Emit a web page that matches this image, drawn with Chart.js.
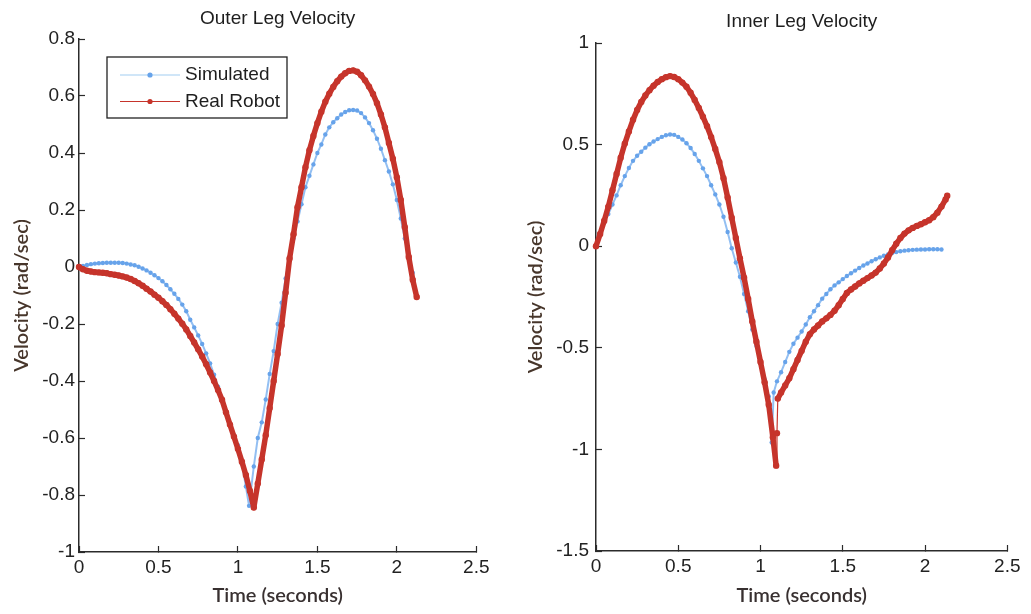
<!DOCTYPE html>
<html>
<head>
<meta charset="utf-8">
<script src="https://cdn.jsdelivr.net/npm/chart.js@4.4.1/dist/chart.umd.min.js"></script>
<style>
  html, body { margin: 0; padding: 0; background: #fff; }
  #wrap { position: relative; width: 1031px; height: 614px; overflow: hidden; }
  canvas { position: absolute; top: 0; }
  #outerChart { left: 0; }
  #innerChart { left: 515px; }
</style>
</head>
<body>
<div id="wrap">
  <canvas id="outerChart" width="500" height="614"></canvas>
  <canvas id="innerChart" width="516" height="614"></canvas>
</div>
<script>
  // tick labels
  const xTicks = [0, 0.5, 1, 1.5, 2, 2.5];
  const outerYTicks = [-1, -0.8, -0.6, -0.4, -0.2, 0, 0.2, 0.4, 0.6, 0.8];
  const innerYTicks = [-1.5, -1, -0.5, 0, 0.5, 1];

  // Outer leg - simulated
  const outerSimT = [0, 0.025, 0.05, 0.075, 0.1, 0.125, 0.15, 0.175, 0.2, 0.225,
    0.25, 0.275, 0.3, 0.325, 0.35, 0.375, 0.4, 0.425, 0.45, 0.475,
    0.5, 0.525, 0.55, 0.575, 0.6, 0.625, 0.65, 0.675, 0.7, 0.725,
    0.75, 0.775, 0.8, 0.825, 0.85, 0.875, 0.9, 0.925, 0.95, 0.975,
    1, 1.025, 1.05, 1.07,
    1.1, 1.125, 1.15, 1.175, 1.2, 1.225, 1.25, 1.275, 1.3, 1.325,
    1.35, 1.375, 1.4, 1.425, 1.45, 1.475, 1.5, 1.525, 1.55, 1.575,
    1.6, 1.625, 1.65, 1.675, 1.7, 1.725, 1.75, 1.775, 1.8, 1.825,
    1.85, 1.875, 1.9, 1.925, 1.95, 1.975, 2, 2.025, 2.05, 2.075, 2.1];
  const outerSimV = [0, 0.004, 0.007, 0.01, 0.012, 0.013, 0.014, 0.015, 0.015, 0.015,
    0.015, 0.014, 0.012, 0.009, 0.006, 0.001, -0.005, -0.012, -0.02, -0.029,
    -0.039, -0.05, -0.063, -0.078, -0.094, -0.112, -0.132, -0.155, -0.185, -0.212,
    -0.24, -0.27, -0.303, -0.338, -0.378, -0.42, -0.465, -0.51, -0.555, -0.59,
    -0.625, -0.69, -0.77, -0.838,
    -0.7, -0.6, -0.545, -0.465, -0.375, -0.295, -0.2, -0.125, -0.04, 0.035,
    0.1, 0.16, 0.22, 0.28, 0.32, 0.36, 0.4, 0.43, 0.465, 0.49,
    0.508, 0.522, 0.535, 0.544, 0.55, 0.551, 0.549, 0.54, 0.525, 0.505,
    0.48, 0.45, 0.415, 0.375, 0.335, 0.29, 0.235, 0.17, 0.1, 0.035, -0.02];

  // Outer leg - real robot
  const outerRealT = [0, 0.025, 0.05, 0.075, 0.1, 0.125, 0.15, 0.175, 0.2, 0.225,
    0.25, 0.275, 0.3, 0.325, 0.35, 0.375, 0.4, 0.425, 0.45, 0.475,
    0.5, 0.525, 0.55, 0.575, 0.6, 0.625, 0.65, 0.675, 0.7, 0.725,
    0.75, 0.775, 0.8, 0.825, 0.85, 0.875, 0.9, 0.925, 0.95, 0.975,
    1, 1.025, 1.05, 1.075, 1.1, 1.125, 1.15, 1.175, 1.2, 1.225,
    1.25, 1.275, 1.3, 1.325, 1.35, 1.375, 1.4, 1.425, 1.45, 1.475,
    1.5, 1.525, 1.55, 1.575, 1.6, 1.625, 1.65, 1.675, 1.7, 1.725,
    1.75, 1.775, 1.8, 1.825, 1.85, 1.875, 1.9, 1.925, 1.95, 1.975,
    2, 2.025, 2.05, 2.075, 2.1, 2.125];
  const outerRealV = [0, -0.008, -0.013, -0.016, -0.018, -0.019, -0.02, -0.022, -0.025, -0.027,
    -0.03, -0.033, -0.037, -0.042, -0.049, -0.057, -0.066, -0.076, -0.086, -0.097,
    -0.108, -0.12, -0.133, -0.148, -0.164, -0.181, -0.199, -0.219, -0.242, -0.265,
    -0.289, -0.314, -0.341, -0.37, -0.4, -0.432, -0.466, -0.51, -0.553, -0.595,
    -0.638, -0.683, -0.73, -0.785, -0.844, -0.76, -0.675, -0.59, -0.495, -0.4,
    -0.305, -0.205, -0.09, 0.03, 0.115, 0.21, 0.28, 0.35, 0.41, 0.46,
    0.505, 0.545, 0.58, 0.608, 0.632, 0.652, 0.668, 0.68, 0.688, 0.69,
    0.685, 0.673, 0.655, 0.633, 0.607, 0.575, 0.535, 0.49, 0.435, 0.38,
    0.315, 0.235, 0.14, 0.035, -0.045, -0.105];

  // Inner leg - simulated
  const innerSimT = [0, 0.025, 0.05, 0.075, 0.1, 0.125, 0.15, 0.175, 0.2, 0.225,
    0.25, 0.275, 0.3, 0.325, 0.35, 0.375, 0.4, 0.425, 0.45, 0.475,
    0.5, 0.525, 0.55, 0.575, 0.6, 0.625, 0.65, 0.675, 0.7, 0.725,
    0.75, 0.775, 0.8, 0.825, 0.85, 0.875, 0.9, 0.925, 0.95, 0.975,
    1, 1.025, 1.05, 1.06, 1.068, 1.08,
    1.1, 1.125, 1.15, 1.175, 1.2, 1.225, 1.25, 1.275, 1.3, 1.325,
    1.35, 1.375, 1.4, 1.425, 1.45, 1.475, 1.5, 1.525, 1.55, 1.575,
    1.6, 1.625, 1.65, 1.675, 1.7, 1.725, 1.75, 1.775, 1.8, 1.825,
    1.85, 1.875, 1.9, 1.925, 1.95, 1.975, 2, 2.025, 2.05, 2.075, 2.1];
  const innerSimV = [0, 0.06, 0.115, 0.158, 0.205, 0.25, 0.3, 0.345, 0.385, 0.42,
    0.445, 0.465, 0.485, 0.502, 0.515, 0.527, 0.538, 0.546, 0.55, 0.548,
    0.538, 0.525, 0.507, 0.483, 0.454, 0.42, 0.383, 0.345, 0.3, 0.255,
    0.205, 0.145, 0.07, -0.01, -0.08, -0.15, -0.235, -0.32, -0.41, -0.49,
    -0.575, -0.655, -0.74, -0.85, -0.966, -0.72,
    -0.665, -0.62, -0.57, -0.52, -0.48, -0.45, -0.42, -0.385, -0.35, -0.32,
    -0.29, -0.258, -0.235, -0.212, -0.193, -0.178, -0.162, -0.147, -0.133, -0.12,
    -0.107, -0.095, -0.085, -0.074, -0.064, -0.055, -0.047, -0.04, -0.034, -0.029,
    -0.025, -0.022, -0.02, -0.018, -0.017, -0.016, -0.016, -0.015, -0.015, -0.015, -0.016];

  // Inner leg - real robot
  const innerRealT = [0, 0.025, 0.05, 0.075, 0.1, 0.125, 0.15, 0.175, 0.2, 0.225,
    0.25, 0.275, 0.3, 0.325, 0.35, 0.375, 0.4, 0.425, 0.45, 0.475,
    0.5, 0.525, 0.55, 0.575, 0.6, 0.625, 0.65, 0.675, 0.7, 0.725,
    0.75, 0.775, 0.8, 0.825, 0.85, 0.875, 0.9, 0.925, 0.95, 0.975,
    1, 1.025, 1.05, 1.075, 1.095, 1.1, 1.105,
    1.125, 1.15, 1.175, 1.2, 1.225, 1.25, 1.275, 1.3, 1.325, 1.35,
    1.375, 1.4, 1.425, 1.45, 1.475, 1.5, 1.525, 1.55, 1.575, 1.6,
    1.625, 1.65, 1.675, 1.7, 1.725, 1.75, 1.775, 1.8, 1.825, 1.85,
    1.875, 1.9, 1.925, 1.95, 1.975, 2, 2.025, 2.05, 2.075, 2.1,
    2.125, 2.135];
  const innerRealV = [0, 0.06, 0.125, 0.195, 0.275, 0.355, 0.435, 0.505, 0.565, 0.622,
    0.67, 0.71, 0.742, 0.768, 0.79, 0.808, 0.822, 0.832, 0.837, 0.833,
    0.822, 0.805, 0.785, 0.755, 0.72, 0.68, 0.637, 0.59, 0.537, 0.478,
    0.414, 0.335, 0.24, 0.14, 0.04, -0.06, -0.155, -0.26, -0.37, -0.47,
    -0.57, -0.67, -0.78, -0.94, -1.08, -0.92, -0.75,
    -0.72, -0.685, -0.65, -0.605, -0.56, -0.515, -0.47, -0.433, -0.41, -0.39,
    -0.37, -0.355, -0.338, -0.318, -0.29, -0.26, -0.23, -0.213, -0.198, -0.183,
    -0.17, -0.157, -0.144, -0.13, -0.11, -0.085, -0.055, -0.02, 0.012, 0.04,
    0.062, 0.078, 0.09, 0.1, 0.108, 0.118, 0.128, 0.143, 0.165, 0.195,
    0.23, 0.248];

  const SIM_LINE = "rgba(128,180,240,0.85)";
  const SIM_POINT = "#67a3ea";
  const REAL_COLOR = "#c6342b";
  const AXIS_COLOR = "#2b2b2b";
  const TICK_FONT = { family: "'Liberation Sans', Arial, sans-serif", size: 19 };
  const AXIS_TITLE_FONT = { family: "Lato, 'Open Sans', sans-serif", size: 20, weight: '600' };

  const toPoints = (t, v) => t.map((x, i) => ({ x: x, y: v[i] }));

  // the jump back up after the minimum is just a thin connecting line
  const thinJump = (ctx) => (ctx.p1.parsed.x - ctx.p0.parsed.x < 0.008 ? 1.2 : undefined);

  const legendBox = {
    id: 'legendBox',
    afterDraw(chart) {
      const { ctx, chartArea } = chart;
      const x = chartArea.left + 28;
      const y = chartArea.top + 18;
      ctx.save();
      ctx.fillStyle = "#fff";
      ctx.fillRect(x, y, 180, 61);
      ctx.strokeStyle = "#222";
      ctx.lineWidth = 1.3;
      ctx.strokeRect(x, y, 180, 61);
      chart.data.datasets.forEach((ds, i) => {
        const ly = y + 18 + i * 26.5;
        ctx.strokeStyle = ds.legendLine;
        ctx.lineWidth = 1.2;
        ctx.beginPath();
        ctx.moveTo(x + 13, ly);
        ctx.lineTo(x + 73, ly);
        ctx.stroke();
        ctx.fillStyle = ds.pointBackgroundColor;
        ctx.beginPath();
        ctx.arc(x + 43, ly, 2.6, 0, Math.PI * 2);
        ctx.fill();
        ctx.fillStyle = "#1e1e1e";
        ctx.font = "19px 'Liberation Sans', Arial, sans-serif";
        ctx.textBaseline = "middle";
        ctx.textAlign = "left";
        ctx.fillText(ds.label, x + 78, ly);
      });
      ctx.restore();
    }
  };

  function legChart(canvasId, opts) {
    return new Chart(document.getElementById(canvasId), {
      type: 'line',
      data: {
        datasets: [{
          label: 'Simulated',
          data: toPoints(opts.simT, opts.simV),
          borderColor: SIM_LINE,
          borderWidth: 2,
          pointRadius: 2.2,
          pointBackgroundColor: SIM_POINT,
          pointBorderWidth: 0,
          legendLine: "rgba(150,200,240,0.9)",
          order: 2,
          clip: 8
        }, {
          label: 'Real Robot',
          data: toPoints(opts.realT, opts.realV),
          borderColor: REAL_COLOR,
          borderWidth: 5.5,
          segment: { borderWidth: thinJump },
          pointRadius: 3.2,
          pointBackgroundColor: REAL_COLOR,
          pointBorderWidth: 0,
          legendLine: REAL_COLOR,
          order: 1,
          clip: 8
        }]
      },
      options: {
        responsive: false,
        animation: false,
        layout: { padding: { left: 0, right: opts.padRight, top: 0, bottom: 0 } },
        elements: { line: { tension: 0, borderJoinStyle: 'round', borderCapStyle: 'round' } },
        scales: {
          x: {
            type: 'linear',
            min: 0,
            max: 2.5,
            afterBuildTicks: s => { s.ticks = xTicks.map(v => ({ value: v })); },
            afterFit: s => { s.height = opts.xHeight; },
            ticks: {
              color: "#222",
              font: TICK_FONT,
              padding: 10.5,
              callback: v => String(v)
            },
            grid: { drawOnChartArea: false, drawTicks: true, tickLength: -6, tickColor: AXIS_COLOR, tickWidth: 1.2 },
            border: { display: true, color: AXIS_COLOR, width: 1.5 },
            title: {
              display: true,
              text: 'Time (seconds)',
              color: "#383030",
              font: AXIS_TITLE_FONT,
              padding: { top: 0, bottom: 6.5 }
            }
          },
          y: {
            type: 'linear',
            min: opts.yTicks[0],
            max: opts.yTicks[opts.yTicks.length - 1],
            afterBuildTicks: s => { s.ticks = opts.yTicks.map(v => ({ value: v })); },
            afterFit: s => { s.width = opts.yWidth; },
            ticks: {
              color: "#222",
              font: TICK_FONT,
              padding: opts.yTickPad,
              callback: v => String(v)
            },
            grid: { drawOnChartArea: false, drawTicks: true, tickLength: -6, tickColor: AXIS_COLOR, tickWidth: 1.2 },
            border: { display: true, color: AXIS_COLOR, width: 1.5 },
            title: {
              display: true,
              text: 'Velocity (rad/sec)',
              color: "#47362b",
              font: AXIS_TITLE_FONT,
              padding: { top: opts.yTitlePad, bottom: 0 }
            }
          }
        },
        plugins: {
          legend: { display: false },
          tooltip: { enabled: false },
          title: {
            display: true,
            fullSize: false,
            text: opts.title,
            color: "#1e1e1e",
            font: { family: "'Liberation Sans', Arial, sans-serif", size: 19, weight: 'normal' },
            padding: opts.titlePad
          }
        }
      },
      plugins: opts.plugins
    });
  }

  legChart("outerChart", {
    title: 'Outer Leg Velocity',
    simT: outerSimT, simV: outerSimV,
    realT: outerRealT, realV: outerRealV,
    yTicks: outerYTicks,
    padRight: 22,
    xHeight: 62,
    yWidth: 79,
    yTickPad: 10,
    yTitlePad: 10,
    titlePad: { top: 7.6, bottom: 8.6 },
    plugins: [legendBox]
  });

  legChart("innerChart", {
    title: 'Inner Leg Velocity',
    simT: innerSimT, simV: innerSimV,
    realT: innerRealT, realV: innerRealV,
    yTicks: innerYTicks,
    padRight: 14,
    xHeight: 63,
    yWidth: 81,
    yTickPad: 13,
    yTitlePad: 9,
    titlePad: { top: 10.6, bottom: 9.6 },
    plugins: []
  });
</script>
</body>
</html>
